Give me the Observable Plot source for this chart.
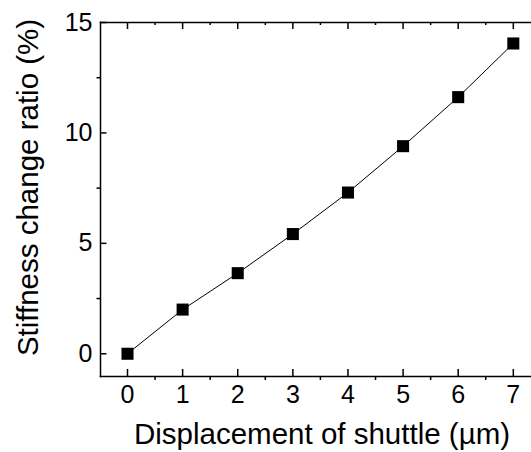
<!DOCTYPE html>
<html>
<head>
<meta charset="utf-8">
<script src="https://cdn.jsdelivr.net/npm/d3@7"></script>
<script src="https://cdn.jsdelivr.net/npm/@observablehq/plot@0.6"></script>
<style>
  html, body { margin: 0; padding: 0; background: white; }
</style>
</head>
<body>
<div id="chart"></div>
<script>
const displacement = [0, 1, 2, 3, 4, 5, 6, 7];
const stiffnessRatio = [0, 2.0, 3.65, 5.42, 7.3, 9.4, 11.62, 14.05];
const xMajorTicks = [0, 1, 2, 3, 4, 5, 6, 7];
const xMinorTicks = [0.5, 1.5, 2.5, 3.5, 4.5, 5.5, 6.5];
const yMajorTicks = [0, 5, 10, 15];
const yMinorTicks = [2.5, 7.5, 12.5];
const xTitle = "Displacement of shuttle (µm)";
const yTitle = "Stiffness change ratio (%)";

const data = displacement.map((x, i) => ({x, y: stiffnessRatio[i]}));

const W = 531, H = 452, mL = 100, mR = 0, mT = 22, mB = 76;
const fw = W - mL - mR, fh = H - mT - mB;

const chart = Plot.plot({
  width: W, height: H,
  marginLeft: mL, marginRight: mR, marginTop: mT, marginBottom: mB,
  x: {domain: [-0.49, 7.33]},
  y: {domain: [-1.03, 15]},
  style: {fontFamily: "'Liberation Sans', Arial, sans-serif", background: "white", color: "black"},
  marks: [
    Plot.frame({anchor: "bottom", strokeWidth: 1.5}),
    Plot.frame({anchor: "left", strokeWidth: 1.5}),
    Plot.frame({anchor: "top", strokeWidth: 1.5}),
    // bottom major ticks (inward)
    Plot.tickX(xMajorTicks, {x: d => d, insetTop: fh - 7, strokeWidth: 1.5}),
    // top major ticks (inward)
    Plot.tickX(xMajorTicks, {x: d => d, insetBottom: fh - 7, strokeWidth: 1.5}),
    // top minor ticks (inward)
    Plot.tickX(xMinorTicks, {x: d => d, insetBottom: fh - 3, strokeWidth: 1.5}),
    // bottom minor ticks (outward)
    Plot.axisX(xMinorTicks, {anchor: "bottom", tickSize: 4, tickFormat: () => "", label: null, strokeWidth: 1.5}),
    Plot.axisX(xMajorTicks, {anchor: "bottom", tickSize: 0, tickPadding: 9, fontSize: 25, label: null}),
    // left major ticks (inward)
    Plot.tickY(yMajorTicks, {y: d => d, insetRight: fw - 6.5, strokeWidth: 1.5}),
    // left minor ticks (outward)
    Plot.axisY(yMinorTicks, {anchor: "left", tickSize: 3.5, tickFormat: () => "", label: null, strokeWidth: 1.5}),
    Plot.axisY(yMajorTicks, {anchor: "left", tickSize: 0, tickPadding: 8, fontSize: 25, label: null}),
    Plot.line(data, {x: "x", y: "y", stroke: "black", strokeWidth: 1}),
    Plot.dot(data, {x: "x", y: "y", symbol: "square", r: 6.8, fill: "black", stroke: null}),
    Plot.text([xTitle], {frameAnchor: "bottom", textAnchor: "middle", dx: 6, dy: 67, fontSize: 29.5, fill: "black"}),
    Plot.text([yTitle], {frameAnchor: "left", textAnchor: "middle", rotate: -90, dx: -72, dy: -12, fontSize: 29.5, fill: "black"})
  ]
});
document.getElementById("chart").appendChild(chart);
</script>
</body>
</html>
